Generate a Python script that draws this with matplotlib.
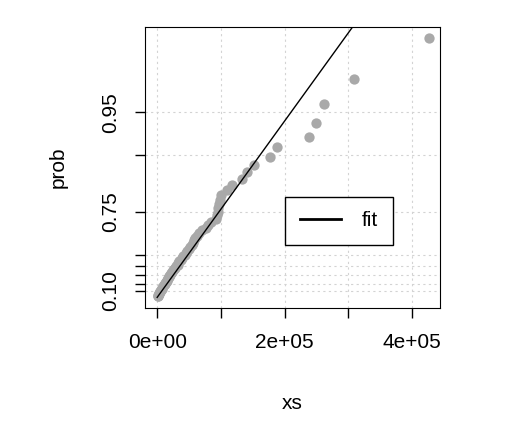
import matplotlib
matplotlib.use("Agg")
import matplotlib.pyplot as plt
from matplotlib.lines import Line2D
import numpy as np

plt.rcParams["font.family"] = ["Liberation Sans", "DejaVu Sans"]

xs = [6e2, 1.2e3, 1.8e3, 2.5e3, 3.2e3, 4e3, 5e3, 6e3, 7e3, 8e3, 9e3, 1.0e4, 1.15e4,
      1.3e4, 1.4e4, 1.5e4, 1.6e4, 1.7e4, 1.8e4, 1.9e4, 2.0e4, 2.2e4, 2.4e4, 2.5e4,
      2.6e4, 2.8e4, 3.0e4, 3.2e4, 3.3e4, 3.5e4, 3.7e4, 3.9e4, 4.1e4, 4.3e4, 4.5e4,
      4.7e4, 5.0e4, 5.2e4, 5.4e4, 5.6e4, 5.8e4, 6.0e4, 6.2e4, 6.5e4, 7.0e4, 7.6e4,
      8.0e4, 8.5e4, 9.3e4, 9.4e4, 9.5e4, 9.6e4, 9.7e4, 9.8e4, 1.0e5, 1.10e5, 1.18e5,
      1.33e5, 1.41e5, 1.52e5, 1.77e5, 1.88e5, 2.38e5, 2.49e5, 2.62e5, 3.09e5, 4.27e5]
prob = [0.015, 0.029, 0.044, 0.059, 0.074, 0.088, 0.103, 0.118, 0.132, 0.147, 0.162,
        0.176, 0.191, 0.206, 0.221, 0.235, 0.250, 0.265, 0.279, 0.294, 0.309, 0.324,
        0.338, 0.353, 0.368, 0.382, 0.397, 0.412, 0.426, 0.441, 0.456, 0.471, 0.485,
        0.500, 0.515, 0.529, 0.544, 0.559, 0.574, 0.588, 0.603, 0.618, 0.632, 0.647,
        0.662, 0.676, 0.691, 0.706, 0.721, 0.735, 0.750, 0.765, 0.779, 0.794, 0.809,
        0.824, 0.838, 0.853, 0.868, 0.882, 0.897, 0.912, 0.926, 0.941, 0.956, 0.971, 0.985]
fit_mean = 70000
prob_ticks = [0.10, 0.20, 0.30, 0.40, 0.50, 0.75, 0.90, 0.95]
prob_labels = ["0.10", "", "", "", "", "0.75", "", "0.95"]
x_ticks = [0, 1e5, 2e5, 3e5, 4e5]
x_labels = ["0e+00", "", "2e+05", "", "4e+05"]


def tr(p):
    # escala exponencial: -log(1-p)
    return -np.log(1 - np.asarray(p))


fig = plt.figure(figsize=(5.09, 4.33), dpi=100)
ax = fig.add_axes([0.285, 0.289, 0.58, 0.649])

ax.scatter(xs, tr(prob), s=55, color="darkgray", zorder=3, linewidths=0)
xl = np.array([0, 4.5e5])
ax.plot(xl, xl / fit_mean, color="black", lw=1, zorder=4)

ax.set_xlim(-1.9e4, 4.44e5)
ax.set_ylim(-0.17, 4.38)
ax.set_yticks(tr(prob_ticks))
ax.set_yticklabels(prob_labels, rotation=90, va="center", fontsize=15)
ax.set_xticks(x_ticks)
ax.set_xticklabels(x_labels, fontsize=15)
ax.tick_params(length=7, width=1, pad=11)
ax.grid(True, color="lightgray", ls=(0, (2, 3)), lw=0.8)
ax.set_axisbelow(True)
ax.set_xlabel("xs", fontsize=15, labelpad=30)
ax.set_ylabel("prob", fontsize=15, labelpad=24)

handle = Line2D([], [], color="black", lw=2)
leg = ax.legend([handle], ["fit"], loc="center right", bbox_to_anchor=(0.875, 0.31),
                fontsize=15, fancybox=False, framealpha=1, edgecolor="black",
                handlelength=2.0, borderpad=0.7, handletextpad=1.0)
leg.get_frame().set_linewidth(1)

fig.savefig("out.png", dpi=100)
